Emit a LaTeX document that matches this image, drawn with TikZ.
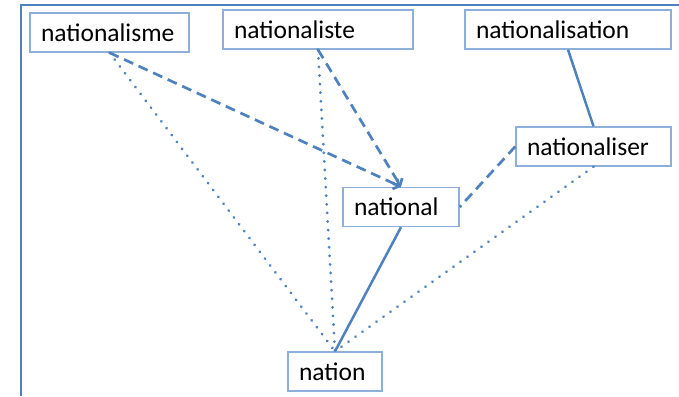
\documentclass[tikz,border=0pt]{standalone}
\usepackage{fontspec}
\setmainfont{Carlito}
\usetikzlibrary{arrows.meta}
\definecolor{linkblue}{RGB}{79,129,189}
\definecolor{boxblue}{RGB}{140,176,218}

\begin{document}
\begin{tikzpicture}[x=1pt, y=-1pt,
	wordbox/.style={draw=boxblue, line width=1.4pt, fill=white, inner xsep=11pt, inner ysep=0pt,
		minimum height=39pt, align=left, font=\fontsize{25.5}{30}\selectfont},
	derived/.style={draw=linkblue, line width=2.7pt, dash pattern=on 10pt off 6pt},
	related/.style={draw=linkblue, line width=3pt, line cap=round, dash pattern=on 0.1pt off 8.5pt},
	base/.style={draw=linkblue, line width=2.5pt}]
	\useasboundingbox (0,0) rectangle (679,396);
	% frame
	\draw[linkblue, line width=1.6pt] (21,396) -- (21,5) -- (679,5);
	% Define the nodes with specific positions
	\node[wordbox, text width=137pt] (nationalisme) at (109.5, 32.5) {nationalisme};
	\node[wordbox, text width=168pt] (nationaliste) at (318, 29.5) {nationaliste};
	\node[wordbox, text width=184pt] (nationalisation) at (568, 29.5) {nationalisation};
	\node[wordbox, text width=133pt] (nationaliser) at (593.5, 146.5) {nationaliser};
	\node[wordbox, text width=94pt] (national) at (401, 207) {national};
	\node[wordbox, text width=72pt] (nation) at (335, 371.5) {nation};

	% Draw the links between the words
	\draw[related] (nationalisme.south) -- (nation.north);
	\draw[related] (nationaliste.south) -- (nation.north);
	\draw[related] (nationaliser.south) -- (nation.north);
	\draw[derived, -{Straight Barb[length=5pt, width=11pt]}] (nationalisme.south) -- (national.north);
	\draw[derived, -{Straight Barb[length=5pt, width=11pt]}] (nationaliste.south) -- (national.north);
	\draw[derived] (nationaliser.west) -- (national.east);
	\draw[base] (national.south) -- (nation.north);
	\draw[base] (nationalisation.south) -- (nationaliser.north);
\end{tikzpicture}
\end{document}
